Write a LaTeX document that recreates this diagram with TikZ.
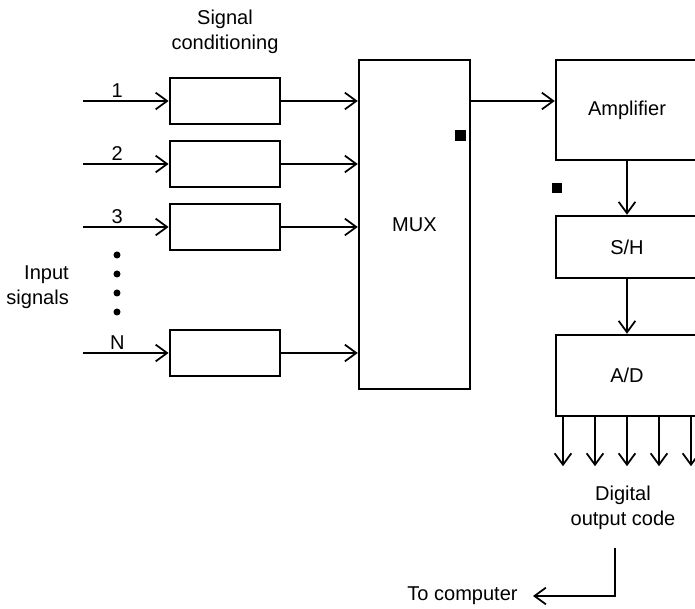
\documentclass[tikz,border=0pt]{standalone}
\usepackage{fontspec}
\setmainfont{Liberation Sans}
\usetikzlibrary{arrows.meta,calc,positioning}

\begin{document}
\begin{tikzpicture}[
    x=1cm,
    y=1cm,
    every node/.style={font=\fontsize{11.4}{14.2}\selectfont},
    arrow/.style={-{Straight Barb[length=6.5pt,width=9.5pt]}, line width=1pt},
    condbox/.style={draw, line width=1.6pt, minimum width=2.2cm, minimum height=0.92cm, inner sep=0pt},
    stagebox/.style={draw, line width=1.4pt, minimum width=2.84cm, inner sep=0pt}
  ]
    \useasboundingbox (0,0) rectangle (13.90,12.18);
    \clip (0,0) rectangle (13.90,12.18);

    % Multiplexer and the conversion chain
    \node[draw, line width=1.4pt, minimum width=2.22cm, minimum height=6.58cm] (mux) at (8.29,7.69) {MUX};
    \node[stagebox, minimum height=2.00cm] (amp) at (12.54,9.98) {Amplifier};
    \node[stagebox, minimum height=1.24cm] (sh) at (12.54,7.24) {S/H};
    \node[stagebox, minimum height=1.62cm] (ad) at (12.54,4.67) {A/D};

    % 1. Signal conditioning channels
    \node[align=center] (L-cond) at (4.50,11.55) {Signal\\conditioning};
    \foreach \name/\yy/\lab in {c1/10.16/1, c2/8.90/2, c3/7.64/3, cN/5.12/N} {
      \node[condbox] (\name) at (4.50,\yy) {};
      \coordinate (in-\name) at (1.66,\yy);
      \draw[arrow] (in-\name) -- node[pos=0.4, above, inner sep=1.5pt] {\lab} (\name);
      \draw[arrow] (\name) -- (\name -| mux.west);
    }
    \foreach \yy in {7.08,6.70,6.32,5.94} {
      \fill (2.34,\yy) circle (0.07);
    }
    \node[align=right, anchor=east] (L-input) at (1.50,6.43) {Input\\signals};

    % 2. Signal path through the chain
    \draw[arrow] (c1.east -| mux.east) -- (c1.east -| amp.west);
    \draw[arrow] (amp) -- (sh);
    \draw[arrow] (sh) -- (ad);
    \foreach \dx in {-1.28,-0.64,0,0.64,1.28} {
      \draw[arrow] ($(ad.south)+(\dx,0)$) -- ++(0,-0.98);
    }

    % 3. Output to the computer
    \node[align=center] (L-digital) at (12.46,2.02) {Digital\\output code};
    \coordinate (digout) at (12.30,1.22);
    \node[anchor=east, inner xsep=0.3cm] (tocomp) at (10.66,0.26) {To computer};
    \draw[arrow] (digout) |- (tocomp);

    % marks as printed
    \fill ($(9.21,9.47)+(-0.11,-0.11)$) rectangle ++(0.22,0.22);
    \fill ($(11.14,8.41)+(-0.10,-0.10)$) rectangle ++(0.20,0.20);

  \end{tikzpicture}
\end{document}
